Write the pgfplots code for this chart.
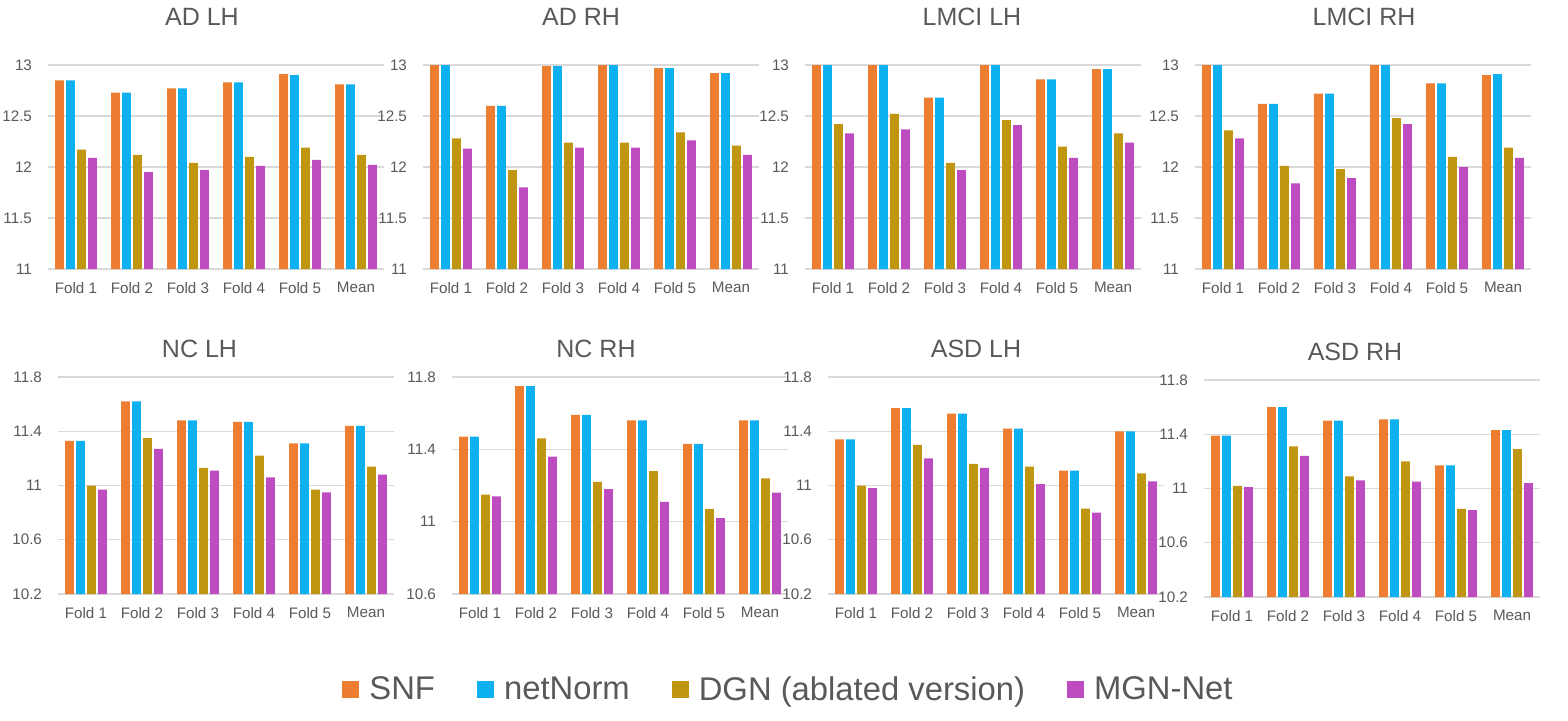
\documentclass[border=0pt]{standalone}
\usepackage{pgfplots}
\pgfplotsset{compat=1.18}
\usepackage{pgfplotstable}
\usepackage{fontspec}
\setmainfont{Liberation Sans}

\definecolor{snfc}{HTML}{ED7D31}
\definecolor{netc}{HTML}{0DB1EF}
\definecolor{dgnc}{HTML}{C09510}
\definecolor{mgnc}{HTML}{BE4BC0}
\definecolor{gridgray}{HTML}{D9D9D9}
\definecolor{labelgray}{HTML}{595959}

\pgfplotstableread{
x snf net dgn mgn
0 12.85 12.85 12.17 12.09
1 12.73 12.73 12.12 11.95
2 12.77 12.77 12.04 11.97
3 12.83 12.83 12.10 12.01
4 12.91 12.90 12.19 12.07
5 12.81 12.81 12.12 12.02
}\adlh
\pgfplotstableread{
x snf net dgn mgn
0 13.00 13.00 12.28 12.18
1 12.60 12.60 11.97 11.80
2 12.99 12.99 12.24 12.19
3 13.00 13.00 12.24 12.19
4 12.97 12.97 12.34 12.26
5 12.92 12.92 12.21 12.12
}\adrh
\pgfplotstableread{
x snf net dgn mgn
0 13.00 13.00 12.42 12.33
1 13.00 13.00 12.52 12.37
2 12.68 12.68 12.04 11.97
3 13.00 13.00 12.46 12.41
4 12.86 12.86 12.20 12.09
5 12.96 12.96 12.33 12.24
}\lmcilh
\pgfplotstableread{
x snf net dgn mgn
0 13.00 13.00 12.36 12.28
1 12.62 12.62 12.01 11.84
2 12.72 12.72 11.98 11.89
3 13.00 13.00 12.48 12.42
4 12.82 12.82 12.10 12.00
5 12.90 12.91 12.19 12.09
}\lmcirh
\pgfplotstableread{
x snf net dgn mgn
0 11.33 11.33 11.00 10.97
1 11.62 11.62 11.35 11.27
2 11.48 11.48 11.13 11.11
3 11.47 11.47 11.22 11.06
4 11.31 11.31 10.97 10.95
5 11.44 11.44 11.14 11.08
}\nclh
\pgfplotstableread{
x snf net dgn mgn
0 11.47 11.47 11.15 11.14
1 11.75 11.75 11.46 11.36
2 11.59 11.59 11.22 11.18
3 11.56 11.56 11.28 11.11
4 11.43 11.43 11.07 11.02
5 11.56 11.56 11.24 11.16
}\ncrh
\pgfplotstableread{
x snf net dgn mgn
0 11.34 11.34 11.00 10.98
1 11.57 11.57 11.30 11.20
2 11.53 11.53 11.16 11.13
3 11.42 11.42 11.14 11.01
4 11.11 11.11 10.83 10.80
5 11.40 11.40 11.09 11.03
}\asdlh
\pgfplotstableread{
x snf net dgn mgn
0 11.39 11.39 11.02 11.01
1 11.60 11.60 11.31 11.24
2 11.50 11.50 11.09 11.06
3 11.51 11.51 11.20 11.05
4 11.17 11.17 10.85 10.84
5 11.43 11.43 11.29 11.04
}\asdrh

\pgfplotsset{
  panel/.style={
    scale only axis, width=168pt,
    anchor=south west,
    xmin=-0.5, xmax=5.5, xtick={0,1,2,3,4,5},
    xticklabels={Fold 1,Fold 2,Fold 3,Fold 4,Fold 5,Mean},
    ybar=1.1pt, bar width=4.4pt,
    axis line style={draw=none},
    major tick length=0pt,
    ymajorgrids, grid style={draw=gridgray, line width=0.6pt},
    tick label style={font=\fontsize{7.6}{9}\selectfont, text=labelgray},
    /pgf/number format/assume math mode=true,
    yticklabel style={xshift=-4.5pt},
    xticklabel style={yshift=-3pt},
  },
  toprow/.style={panel, height=102pt, ymin=11, ymax=13, ytick={11,11.5,12,12.5,13}},
  botrow/.style={panel, height=108.5pt, ymin=10.2, ymax=11.8, ytick={10.2,10.6,11,11.4,11.8}},
  sqlegend/.style={legend image code/.code={\fill[##1] (0pt,-4.25pt) rectangle (8.5pt,4.25pt);}},
}

\newcommand{\bars}[1]{%
  \addplot[fill=snfc, draw=none] table[x=x, y=snf]{#1};
  \addplot[fill=netc, draw=none] table[x=x, y=net]{#1};
  \addplot[fill=dgnc, draw=none] table[x=x, y=dgn]{#1};
  \addplot[fill=mgnc, draw=none] table[x=x, y=mgn]{#1};
}

\begin{document}
\begin{tikzpicture}
\useasboundingbox (0,0) rectangle (784pt,360pt);
\tikzset{ttl/.style={font=\fontsize{12.5}{14}\selectfont, text=labelgray, anchor=center, inner sep=0pt}}

\begin{axis}[toprow, at={(24pt,225.5pt)}]
\bars{\adlh}
\end{axis}
\begin{axis}[toprow, at={(211.5pt,225.5pt)}]
\bars{\adrh}
\end{axis}
\begin{axis}[toprow, at={(402.5pt,225.5pt)}]
\bars{\lmcilh}
\end{axis}
\begin{axis}[toprow, at={(597.5pt,225.5pt)}]
\bars{\lmcirh}
\end{axis}

\begin{axis}[botrow, at={(29pt,63pt)}]
\bars{\nclh}
\end{axis}
\begin{axis}[botrow, at={(226pt,63pt)}, ymin=10.6, ytick={10.6,11,11.4,11.8},
  sqlegend,
  legend columns=4,
  legend style={at={(1.0045,-0.442)}, anchor=center, draw=none, fill=none,
    font=\fontsize{16.4}{19}\selectfont, text=labelgray,
    /tikz/every odd column/.append style={column sep=3pt},
    /tikz/every even column/.append style={column sep=19pt},
    cells={anchor=west}},
]
\bars{\ncrh}
\legend{SNF,netNorm,DGN (ablated version),MGN-Net}
\end{axis}
\begin{axis}[botrow, at={(414pt,63pt)}]
\bars{\asdlh}
\end{axis}
\begin{axis}[botrow, at={(602pt,61.5pt)}]
\bars{\asdrh}
\end{axis}

\node[ttl] at (101pt,351.5pt) {AD LH};
\node[ttl] at (290.5pt,351.5pt) {AD RH};
\node[ttl] at (486pt,351.5pt) {LMCI LH};
\node[ttl] at (682pt,351.5pt) {LMCI RH};
\node[ttl] at (99.75pt,185.5pt) {NC LH};
\node[ttl] at (298pt,185.5pt) {NC RH};
\node[ttl] at (488pt,185.5pt) {ASD LH};
\node[ttl] at (677.5pt,184pt) {ASD RH};
\end{tikzpicture}
\end{document}
